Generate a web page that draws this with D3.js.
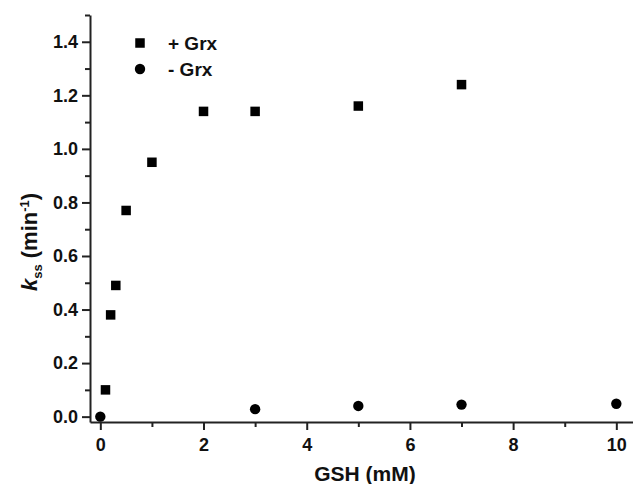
<!DOCTYPE html>
<html>
<head>
<meta charset="utf-8">
<script src="https://cdn.jsdelivr.net/npm/d3@7"></script>
<style>
  body { margin: 0; background: #fff; }
  svg { display: block; font-family: "Liberation Sans", Arial, sans-serif; font-weight: bold; }
  .axis path, .axis line { stroke: #222; }
  .axis text { fill: #111; font-size: 18px; font-weight: bold; }
</style>
</head>
<body>
<div id="chart"></div>
<script>
// GSH concentration (mM) and steady-state rate k_ss (min^-1)
var gshPlus  = [0.1, 0.2, 0.3, 0.5, 1, 2, 3, 5, 7];
var kssPlus  = [0.10, 0.38, 0.49, 0.77, 0.95, 1.14, 1.14, 1.16, 1.24];
var gshMinus = [0, 3, 5, 7, 10];
var kssMinus = [0.0, 0.028, 0.04, 0.045, 0.048];

var xMajor = [0, 2, 4, 6, 8, 10];
var xMinor = [1, 3, 5, 7, 9];
var yMajor = [0.0, 0.2, 0.4, 0.6, 0.8, 1.0, 1.2, 1.4];
var yMinor = [0.1, 0.3, 0.5, 0.7, 0.9, 1.1, 1.3, 1.5];

var seriesNames = ["+ Grx", "- Grx"];

var W = 633, H = 484;
var plotLeft = 90, plotBottom = 422, plotTop = 15;

var svg = d3.select("#chart").append("svg")
    .attr("width", W)
    .attr("height", H);

var x = d3.scaleLinear().domain([-0.2, 10.5]).range([plotLeft, plotLeft + 10.7 * 51.6]);
var y = d3.scaleLinear().domain([-0.02, 1.5]).range([plotBottom, plotTop]);

// x axis, minor then major ticks
svg.append("g")
    .attr("class", "axis")
    .attr("transform", "translate(0," + plotBottom + ")")
    .call(d3.axisBottom(x).tickValues(xMinor).tickSize(5).tickFormat(""))
    .call(function(g) { g.select(".domain").remove(); })
    .selectAll("line").style("stroke-width", 2);

var xg = svg.append("g")
    .attr("class", "axis")
    .attr("transform", "translate(0," + plotBottom + ")")
    .call(d3.axisBottom(x).tickValues(xMajor).tickSize(8).tickSizeOuter(0).tickPadding(8).tickFormat(d3.format("d")));
xg.select(".domain").style("stroke-width", 2);
xg.selectAll("line").style("stroke-width", 2);

// y axis
svg.append("g")
    .attr("class", "axis")
    .attr("transform", "translate(" + plotLeft + ",0)")
    .call(d3.axisLeft(y).tickValues(yMinor).tickSize(5).tickFormat(""))
    .call(function(g) { g.select(".domain").remove(); })
    .selectAll("line").style("stroke-width", 2);

var yg = svg.append("g")
    .attr("class", "axis")
    .attr("transform", "translate(" + plotLeft + ",0)")
    .call(d3.axisLeft(y).tickValues(yMajor).tickSize(8).tickSizeOuter(0).tickPadding(4).tickFormat(d3.format(".1f")));
yg.select(".domain").style("stroke-width", 2);
yg.selectAll("line").style("stroke-width", 2);

// data points
var sq = 9.5;
svg.append("g").selectAll("rect")
    .data(d3.zip(gshPlus, kssPlus))
    .enter().append("rect")
    .attr("x", function(d) { return x(d[0]) - sq / 2; })
    .attr("y", function(d) { return y(d[1]) - sq / 2; })
    .attr("width", sq)
    .attr("height", sq)
    .attr("fill", "#000");

svg.append("g").selectAll("circle")
    .data(d3.zip(gshMinus, kssMinus))
    .enter().append("circle")
    .attr("cx", function(d) { return x(d[0]); })
    .attr("cy", function(d) { return y(d[1]); })
    .attr("r", 5.2)
    .attr("fill", "#000");

// legend
var legend = svg.append("g").attr("transform", "translate(140,43)");
legend.append("rect")
    .attr("x", -sq / 2).attr("y", -sq / 2)
    .attr("width", sq).attr("height", sq)
    .attr("fill", "#000");
legend.append("circle")
    .attr("cx", 0).attr("cy", 26).attr("r", 5.2)
    .attr("fill", "#000");
legend.selectAll("text")
    .data(seriesNames)
    .enter().append("text")
    .attr("x", 28)
    .attr("y", function(d, i) { return 7 + i * 26; })
    .style("font-size", "19px")
    .attr("fill", "#111")
    .text(function(d) { return d; });

// axis titles
svg.append("text")
    .attr("x", 365)
    .attr("y", 481)
    .attr("text-anchor", "middle")
    .style("font-size", "21px")
    .attr("fill", "#111")
    .text("GSH (mM)");

var yt = svg.append("text")
    .attr("transform", "translate(37,242) rotate(-90)")
    .attr("text-anchor", "middle")
    .style("font-size", "22px")
    .attr("fill", "#111");
yt.append("tspan").style("font-style", "italic").text("k");
yt.append("tspan").attr("dy", 5).style("font-size", "13px").text("ss");
yt.append("tspan").attr("dy", -5).text(" (min");
yt.append("tspan").attr("dy", -8).style("font-size", "13px").text("-1");
yt.append("tspan").attr("dy", 8).text(")");
</script>
</body>
</html>
